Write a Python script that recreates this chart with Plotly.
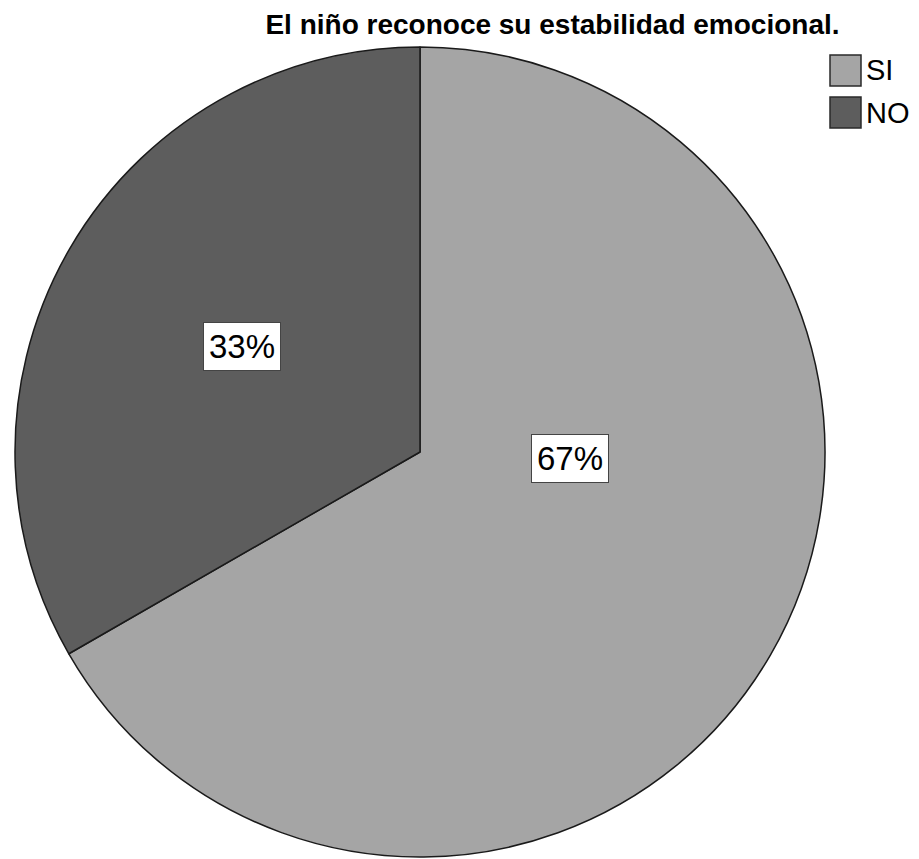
import plotly.graph_objects as go

# ---- data ----
labels = ["SI", "NO"]
values = [66.7, 33.3]          # percent of responses
colors = ["#a5a5a5", "#5d5d5d"]
title_text = "El niño reconoce su estabilidad emocional."

# page is 919x859; the html body adds an 8px margin around the figure
OFF = 8
W, H = 919 - OFF, 859 - OFF


def fx(px):
    return (px - OFF) / W


def fy(py):
    return 1 - (py - OFF) / H


fig = go.Figure()
fig.add_trace(go.Pie(
    labels=labels,
    values=values,
    sort=False,
    direction="clockwise",
    rotation=0,
    marker=dict(colors=colors, line=dict(color="#1a1a1a", width=1.5)),
    textinfo="none",
    hoverinfo="label+percent",
    showlegend=False,
    domain=dict(x=[fx(15), fx(825)], y=[fy(857), fy(47)]),
))

# percentage label boxes (page pixel positions)
label_pos = {"SI": (570, 458.5), "NO": (241.5, 346.5)}
total = sum(values)
annotations = []
for lab, val in zip(labels, values):
    px, py = label_pos[lab]
    annotations.append(dict(
        x=fx(px), y=fy(py), xref="paper", yref="paper",
        text=f"{round(val / total * 100)}%", showarrow=False,
        font=dict(family="Liberation Sans, Arial, sans-serif", size=33, color="#000000"),
        bgcolor="#ffffff", bordercolor="#444444", borderwidth=1, borderpad=5,
        xanchor="center", yanchor="middle",
    ))

# custom legend
shapes = []
leg_x0, leg_y0, sq, pitch = 830, 55, 31, 42
for i, (lab, col) in enumerate(zip(labels, colors)):
    y0 = leg_y0 + i * pitch
    shapes.append(dict(
        type="rect", xref="paper", yref="paper",
        x0=fx(leg_x0), x1=fx(leg_x0 + sq),
        y0=fy(y0), y1=fy(y0 + sq),
        fillcolor=col, line=dict(color="#2a2a2a", width=1.5),
    ))
    annotations.append(dict(
        x=fx(leg_x0 + sq + 3), y=fy(y0 + sq / 2), xref="paper", yref="paper",
        text=lab, showarrow=False, xanchor="left", yanchor="middle",
        font=dict(family="Liberation Sans, Arial, sans-serif", size=29, color="#000000"),
    ))

fig.update_layout(
    width=W, height=H,
    margin=dict(l=0, r=0, t=0, b=0),
    paper_bgcolor="#ffffff", plot_bgcolor="#ffffff",
    title=dict(
        text=f"<b>{title_text}</b>",
        x=fx(552.5), xref="paper", xanchor="center",
        y=fy(24), yref="container", yanchor="middle",
        font=dict(family="Liberation Sans, Arial, sans-serif", size=28, color="#000000"),
    ),
    annotations=annotations,
    shapes=shapes,
)

fig.write_html("out.html")
